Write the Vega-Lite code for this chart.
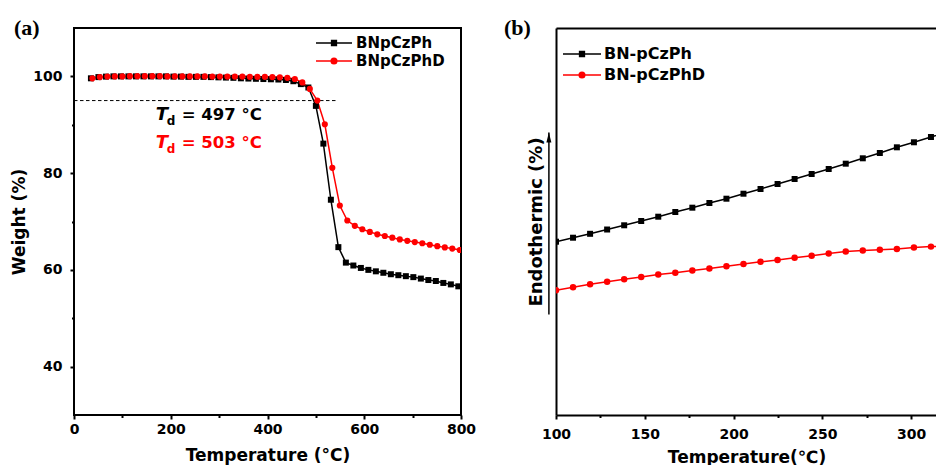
{
  "$schema": "https://vega.github.io/schema/vega-lite/v6.json",
  "background": "white",
  "padding": {"left": 9, "top": 16, "right": 0, "bottom": 0},
  "spacing": 27,
  "resolve": {"scale": {"color": "independent"}, "legend": {"color": "independent"}},
  "config": {
    "font": "DejaVu Sans",
    "view": {"stroke": null},
    "axis": {
      "grid": false, "labelFlush": false,
      "labelFont": "DejaVu Sans", "labelFontSize": 14, "labelFontWeight": "bold", "labelColor": "#000",
      "titleFont": "DejaVu Sans", "titleFontSize": 17, "titleFontWeight": "bold", "titleColor": "#000",
      "tickColor": "#000", "tickWidth": 2, "domainColor": "#000", "domainWidth": 2
    }
  },
  "datasets": {
    "tga": [
      {"series": "BNpCzPh", "t": 35, "w": 99.6}, {"series": "BNpCzPh", "t": 50.5, "w": 99.85},
      {"series": "BNpCzPh", "t": 66, "w": 99.95}, {"series": "BNpCzPh", "t": 81.5, "w": 100},
      {"series": "BNpCzPh", "t": 97, "w": 100}, {"series": "BNpCzPh", "t": 112.5, "w": 100},
      {"series": "BNpCzPh", "t": 128, "w": 100}, {"series": "BNpCzPh", "t": 143.5, "w": 100},
      {"series": "BNpCzPh", "t": 159, "w": 100}, {"series": "BNpCzPh", "t": 174.5, "w": 100},
      {"series": "BNpCzPh", "t": 190, "w": 100}, {"series": "BNpCzPh", "t": 205.5, "w": 99.95},
      {"series": "BNpCzPh", "t": 221, "w": 99.95}, {"series": "BNpCzPh", "t": 236.5, "w": 99.9},
      {"series": "BNpCzPh", "t": 252, "w": 99.9}, {"series": "BNpCzPh", "t": 267.5, "w": 99.9},
      {"series": "BNpCzPh", "t": 283, "w": 99.85}, {"series": "BNpCzPh", "t": 298.5, "w": 99.8},
      {"series": "BNpCzPh", "t": 314, "w": 99.75}, {"series": "BNpCzPh", "t": 329.5, "w": 99.7},
      {"series": "BNpCzPh", "t": 345, "w": 99.6}, {"series": "BNpCzPh", "t": 360.5, "w": 99.55},
      {"series": "BNpCzPh", "t": 376, "w": 99.5}, {"series": "BNpCzPh", "t": 391.5, "w": 99.45},
      {"series": "BNpCzPh", "t": 407, "w": 99.4}, {"series": "BNpCzPh", "t": 422.5, "w": 99.35},
      {"series": "BNpCzPh", "t": 438, "w": 99.25}, {"series": "BNpCzPh", "t": 453.5, "w": 99.0},
      {"series": "BNpCzPh", "t": 469, "w": 98.4}, {"series": "BNpCzPh", "t": 484.5, "w": 97.7},
      {"series": "BNpCzPh", "t": 500, "w": 93.9}, {"series": "BNpCzPh", "t": 515.5, "w": 86.1},
      {"series": "BNpCzPh", "t": 531, "w": 74.5}, {"series": "BNpCzPh", "t": 546.5, "w": 64.7},
      {"series": "BNpCzPh", "t": 562, "w": 61.5}, {"series": "BNpCzPh", "t": 577.5, "w": 60.9},
      {"series": "BNpCzPh", "t": 593, "w": 60.4}, {"series": "BNpCzPh", "t": 608.5, "w": 60.0},
      {"series": "BNpCzPh", "t": 624, "w": 59.7}, {"series": "BNpCzPh", "t": 639.5, "w": 59.4},
      {"series": "BNpCzPh", "t": 655, "w": 59.1}, {"series": "BNpCzPh", "t": 670.5, "w": 58.9},
      {"series": "BNpCzPh", "t": 686, "w": 58.7}, {"series": "BNpCzPh", "t": 701.5, "w": 58.5},
      {"series": "BNpCzPh", "t": 717, "w": 58.2}, {"series": "BNpCzPh", "t": 732.5, "w": 57.9},
      {"series": "BNpCzPh", "t": 748, "w": 57.7}, {"series": "BNpCzPh", "t": 763.5, "w": 57.3},
      {"series": "BNpCzPh", "t": 779, "w": 57.0}, {"series": "BNpCzPh", "t": 794.5, "w": 56.6},
      {"series": "BNpCzPhD", "t": 38, "w": 99.6}, {"series": "BNpCzPhD", "t": 53.5, "w": 99.85},
      {"series": "BNpCzPhD", "t": 69, "w": 99.95}, {"series": "BNpCzPhD", "t": 84.5, "w": 100},
      {"series": "BNpCzPhD", "t": 100, "w": 100}, {"series": "BNpCzPhD", "t": 115.5, "w": 100.05},
      {"series": "BNpCzPhD", "t": 131, "w": 100.05}, {"series": "BNpCzPhD", "t": 146.5, "w": 100.05},
      {"series": "BNpCzPhD", "t": 162, "w": 100.05}, {"series": "BNpCzPhD", "t": 177.5, "w": 100.05},
      {"series": "BNpCzPhD", "t": 193, "w": 100}, {"series": "BNpCzPhD", "t": 208.5, "w": 100},
      {"series": "BNpCzPhD", "t": 224, "w": 100}, {"series": "BNpCzPhD", "t": 239.5, "w": 100},
      {"series": "BNpCzPhD", "t": 255, "w": 100}, {"series": "BNpCzPhD", "t": 270.5, "w": 100},
      {"series": "BNpCzPhD", "t": 286, "w": 99.95}, {"series": "BNpCzPhD", "t": 301.5, "w": 99.95},
      {"series": "BNpCzPhD", "t": 317, "w": 99.95}, {"series": "BNpCzPhD", "t": 332.5, "w": 99.95},
      {"series": "BNpCzPhD", "t": 348, "w": 99.95}, {"series": "BNpCzPhD", "t": 363.5, "w": 99.9},
      {"series": "BNpCzPhD", "t": 379, "w": 99.9}, {"series": "BNpCzPhD", "t": 394.5, "w": 99.9},
      {"series": "BNpCzPhD", "t": 410, "w": 99.85}, {"series": "BNpCzPhD", "t": 425.5, "w": 99.8},
      {"series": "BNpCzPhD", "t": 441, "w": 99.7}, {"series": "BNpCzPhD", "t": 456.5, "w": 99.45},
      {"series": "BNpCzPhD", "t": 472, "w": 98.75}, {"series": "BNpCzPhD", "t": 487.5, "w": 97.4},
      {"series": "BNpCzPhD", "t": 503, "w": 95.0}, {"series": "BNpCzPhD", "t": 518.5, "w": 90.1},
      {"series": "BNpCzPhD", "t": 534, "w": 81.1}, {"series": "BNpCzPhD", "t": 549.5, "w": 73.3},
      {"series": "BNpCzPhD", "t": 565, "w": 70.2}, {"series": "BNpCzPhD", "t": 580.5, "w": 69.1},
      {"series": "BNpCzPhD", "t": 596, "w": 68.4}, {"series": "BNpCzPhD", "t": 611.5, "w": 67.85},
      {"series": "BNpCzPhD", "t": 627, "w": 67.35}, {"series": "BNpCzPhD", "t": 642.5, "w": 67.0},
      {"series": "BNpCzPhD", "t": 658, "w": 66.65}, {"series": "BNpCzPhD", "t": 673.5, "w": 66.3},
      {"series": "BNpCzPhD", "t": 689, "w": 66.0}, {"series": "BNpCzPhD", "t": 704.5, "w": 65.75},
      {"series": "BNpCzPhD", "t": 720, "w": 65.5}, {"series": "BNpCzPhD", "t": 735.5, "w": 65.2},
      {"series": "BNpCzPhD", "t": 751, "w": 64.9}, {"series": "BNpCzPhD", "t": 766.5, "w": 64.65},
      {"series": "BNpCzPhD", "t": 782, "w": 64.4}, {"series": "BNpCzPhD", "t": 797.5, "w": 64.1}
    ],
    "td95": [{"t0": 0, "t1": 541, "w": 95}],
    "tdnote": [
      {"series": "BNpCzPh", "label": "= 497 °C", "t": 169, "w": 90.9},
      {"series": "BNpCzPhD", "label": "= 503 °C", "t": 169, "w": 85.1}
    ],
    "dsc": [
      {"series": "BN-pCzPh", "t": 100, "v": 44.78}, {"series": "BN-pCzPh", "t": 109.6, "v": 45.81},
      {"series": "BN-pCzPh", "t": 119.2, "v": 46.82}, {"series": "BN-pCzPh", "t": 128.8, "v": 47.93},
      {"series": "BN-pCzPh", "t": 138.4, "v": 49.02}, {"series": "BN-pCzPh", "t": 148, "v": 50.13},
      {"series": "BN-pCzPh", "t": 157.6, "v": 51.24}, {"series": "BN-pCzPh", "t": 167.2, "v": 52.45},
      {"series": "BN-pCzPh", "t": 176.8, "v": 53.57}, {"series": "BN-pCzPh", "t": 186.4, "v": 54.78},
      {"series": "BN-pCzPh", "t": 196, "v": 55.89}, {"series": "BN-pCzPh", "t": 205.6, "v": 57.18},
      {"series": "BN-pCzPh", "t": 215.2, "v": 58.4}, {"series": "BN-pCzPh", "t": 224.8, "v": 59.69},
      {"series": "BN-pCzPh", "t": 234.4, "v": 60.98}, {"series": "BN-pCzPh", "t": 244, "v": 62.27},
      {"series": "BN-pCzPh", "t": 253.6, "v": 63.57}, {"series": "BN-pCzPh", "t": 263.2, "v": 64.94},
      {"series": "BN-pCzPh", "t": 272.8, "v": 66.33}, {"series": "BN-pCzPh", "t": 282.4, "v": 67.7},
      {"series": "BN-pCzPh", "t": 292, "v": 69.17}, {"series": "BN-pCzPh", "t": 301.6, "v": 70.47},
      {"series": "BN-pCzPh", "t": 311.2, "v": 71.83}, {"series": "BN-pCzPh", "t": 320.8, "v": 73.18},
      {"series": "BN-pCzPhD", "t": 100, "v": 32.22}, {"series": "BN-pCzPhD", "t": 109.6, "v": 33.0},
      {"series": "BN-pCzPhD", "t": 119.2, "v": 33.77}, {"series": "BN-pCzPhD", "t": 128.8, "v": 34.44},
      {"series": "BN-pCzPhD", "t": 138.4, "v": 35.06}, {"series": "BN-pCzPhD", "t": 148, "v": 35.66},
      {"series": "BN-pCzPhD", "t": 157.6, "v": 36.3}, {"series": "BN-pCzPhD", "t": 167.2, "v": 36.77},
      {"series": "BN-pCzPhD", "t": 176.8, "v": 37.34}, {"series": "BN-pCzPhD", "t": 186.4, "v": 37.86},
      {"series": "BN-pCzPhD", "t": 196, "v": 38.45}, {"series": "BN-pCzPhD", "t": 205.6, "v": 39.02},
      {"series": "BN-pCzPhD", "t": 215.2, "v": 39.59}, {"series": "BN-pCzPhD", "t": 224.8, "v": 40.05},
      {"series": "BN-pCzPhD", "t": 234.4, "v": 40.62}, {"series": "BN-pCzPhD", "t": 244, "v": 41.16},
      {"series": "BN-pCzPhD", "t": 253.6, "v": 41.73}, {"series": "BN-pCzPhD", "t": 263.2, "v": 42.22},
      {"series": "BN-pCzPhD", "t": 272.8, "v": 42.51}, {"series": "BN-pCzPhD", "t": 282.4, "v": 42.69},
      {"series": "BN-pCzPhD", "t": 292, "v": 42.89}, {"series": "BN-pCzPhD", "t": 301.6, "v": 43.28},
      {"series": "BN-pCzPhD", "t": 311.2, "v": 43.51}, {"series": "BN-pCzPhD", "t": 320.8, "v": 43.67}
    ],
    "arrow": [{"t": 96, "lo": 26, "hi": 73}]
  },
  "hconcat": [
    {
      "width": 387,
      "height": 387,
      "view": {"stroke": "#000", "strokeWidth": 2},
      "title": {"text": "(a)", "anchor": "start", "frame": "group", "dx": -60, "dy": 22, "offset": -7, "baseline": "alphabetic", "font": "Liberation Serif", "fontSize": 22, "fontWeight": "bold", "color": "#000"},
      "layer": [
        {
          "data": {"name": "td95"},
          "mark": {"type": "rule", "strokeDash": [3.5, 2.5], "strokeWidth": 1, "color": "#000"},
          "encoding": {
            "x": {"field": "t0", "type": "quantitative", "scale": {"domain": [0, 800], "nice": false, "zero": false}, "axis": null},
            "x2": {"field": "t1"},
            "y": {"field": "w", "type": "quantitative", "scale": {"domain": [30, 110], "nice": false, "zero": false}, "axis": null}
          }
        },
        {
          "data": {"name": "tga"},
          "mark": {"type": "line", "strokeWidth": 1.5, "clip": true},
          "encoding": {
            "x": {"field": "t", "type": "quantitative", "scale": {"domain": [0, 800], "nice": false, "zero": false},
              "axis": {"orient": "bottom", "values": [0, 200, 400, 600, 800], "tickSize": 4, "labelPadding": 3, "domain": false, "title": "Temperature (°C)", "titlePadding": 11}},
            "y": {"field": "w", "type": "quantitative", "scale": {"domain": [30, 110], "nice": false, "zero": false},
              "axis": {"orient": "left", "values": [40, 60, 80, 100], "tickSize": 4, "labelPadding": 8, "domain": false, "title": "Weight (%)", "titlePadding": 4}},
            "color": {"field": "series", "type": "nominal",
              "scale": {"domain": ["BNpCzPh", "BNpCzPhD"], "range": ["#000000", "#ff0000"]},
              "legend": {
                "orient": "none", "legendX": 251, "legendY": 6, "title": null, "padding": 0,
                "symbolSize": 256, "symbolStrokeWidth": 1.5, "labelOffset": 13, "rowPadding": 1,
                "labelFont": "DejaVu Sans", "labelFontSize": 15, "labelFontWeight": "bold", "labelColor": "#000",
                "encode": {"symbols": {"update": {
                  "shape": {"signal": "datum.value === 'BNpCzPh' ? 'M-2.25,0H2.25M-0.3,-0.3H0.3V0.3H-0.3Z' : 'M-2.25,0H2.25M0.35,0A0.35,0.35,0,1,1,-0.35,0A0.35,0.35,0,1,1,0.35,0Z'"},
                  "fill": {"signal": "datum.value === 'BNpCzPh' ? '#000000' : '#ff0000'"},
                  "stroke": {"signal": "datum.value === 'BNpCzPh' ? '#000000' : '#ff0000'"}
                }}}
              }
            }
          }
        },
        {
          "data": {"name": "tga"},
          "transform": [{"filter": {"field": "series", "equal": "BNpCzPh"}}],
          "mark": {"type": "point", "shape": "square", "filled": true, "opacity": 1, "size": 36, "color": "#000000", "clip": true},
          "encoding": {
            "x": {"field": "t", "type": "quantitative", "scale": {"domain": [0, 800], "nice": false, "zero": false},
              "axis": {"orient": "bottom", "values": [100, 300, 500, 700], "tickSize": 2.5, "labels": false, "domain": false, "title": null}},
            "y": {"field": "w", "type": "quantitative", "scale": {"domain": [30, 110], "nice": false, "zero": false},
              "axis": {"orient": "left", "values": [50, 70, 90], "tickSize": 2.5, "labels": false, "domain": false, "title": null}}
          }
        },
        {
          "data": {"name": "tga"},
          "transform": [{"filter": {"field": "series", "equal": "BNpCzPhD"}}],
          "mark": {"type": "point", "shape": "circle", "filled": true, "opacity": 1, "size": 38, "color": "#ff0000", "clip": true},
          "encoding": {
            "x": {"field": "t", "type": "quantitative", "scale": {"domain": [0, 800], "nice": false, "zero": false}, "axis": null},
            "y": {"field": "w", "type": "quantitative", "scale": {"domain": [30, 110], "nice": false, "zero": false}, "axis": null}
          }
        },
        {
          "data": {"name": "tdnote"},
          "mark": {"type": "text", "text": "T", "align": "left", "baseline": "alphabetic", "font": "DejaVu Sans", "fontSize": 18, "fontStyle": "italic", "fontWeight": "bold"},
          "encoding": {
            "x": {"field": "t", "type": "quantitative", "scale": {"domain": [0, 800], "nice": false, "zero": false}, "axis": null},
            "y": {"field": "w", "type": "quantitative", "scale": {"domain": [30, 110], "nice": false, "zero": false}, "axis": null},
            "color": {"field": "series", "type": "nominal", "legend": null}
          }
        },
        {
          "data": {"name": "tdnote"},
          "mark": {"type": "text", "text": "d", "align": "left", "baseline": "alphabetic", "dx": 11, "dy": 5, "font": "DejaVu Sans", "fontSize": 12, "fontWeight": "bold"},
          "encoding": {
            "x": {"field": "t", "type": "quantitative", "scale": {"domain": [0, 800], "nice": false, "zero": false}, "axis": null},
            "y": {"field": "w", "type": "quantitative", "scale": {"domain": [30, 110], "nice": false, "zero": false}, "axis": null},
            "color": {"field": "series", "type": "nominal", "legend": null}
          }
        },
        {
          "data": {"name": "tdnote"},
          "mark": {"type": "text", "align": "left", "baseline": "alphabetic", "dx": 26, "font": "DejaVu Sans", "fontSize": 16.5, "fontWeight": "bold"},
          "encoding": {
            "x": {"field": "t", "type": "quantitative", "scale": {"domain": [0, 800], "nice": false, "zero": false}, "axis": null},
            "y": {"field": "w", "type": "quantitative", "scale": {"domain": [30, 110], "nice": false, "zero": false}, "axis": null},
            "text": {"field": "label"},
            "color": {"field": "series", "type": "nominal", "legend": null}
          }
        }
      ],
      "resolve": {"axis": {"x": "independent", "y": "independent"}}
    },
    {
      "width": 381,
      "height": 387,
      "title": {"text": "(b)", "anchor": "start", "frame": "group", "dx": -52, "dy": 22, "offset": -7, "baseline": "alphabetic", "font": "Liberation Serif", "fontSize": 22, "fontWeight": "bold", "color": "#000"},
      "layer": [
        {
          "data": {"name": "dsc"},
          "mark": {"type": "line", "strokeWidth": 1.5, "clip": true},
          "encoding": {
            "x": {"field": "t", "type": "quantitative", "scale": {"domain": [100, 314.6], "nice": false, "zero": false},
              "axis": {"orient": "bottom", "values": [100, 150, 200, 250, 300], "tickSize": 4, "labelPadding": 8, "title": "Temperature(℃)", "titlePadding": 8}},
            "y": {"field": "v", "type": "quantitative", "scale": {"domain": [0, 100], "nice": false, "zero": false},
              "axis": {"orient": "left", "ticks": false, "labels": false, "title": "Endothermic (%)", "titleFontSize": 18, "titlePadding": 11}},
            "color": {"field": "series", "type": "nominal",
              "scale": {"domain": ["BN-pCzPh", "BN-pCzPhD"], "range": ["#000000", "#ff0000"]},
              "legend": {
                "orient": "none", "legendX": 15, "legendY": 15, "title": null, "padding": 0,
                "symbolSize": 400, "symbolStrokeWidth": 1.5, "labelOffset": 11, "rowPadding": 2,
                "labelFont": "DejaVu Sans", "labelFontSize": 16, "labelFontWeight": "bold", "labelColor": "#000",
                "encode": {"symbols": {"update": {
                  "shape": {"signal": "datum.value === 'BN-pCzPh' ? 'M-1.9,0H1.9M-0.24,-0.24H0.24V0.24H-0.24Z' : 'M-1.9,0H1.9M0.28,0A0.28,0.28,0,1,1,-0.28,0A0.28,0.28,0,1,1,0.28,0Z'"},
                  "fill": {"signal": "datum.value === 'BN-pCzPh' ? '#000000' : '#ff0000'"},
                  "stroke": {"signal": "datum.value === 'BN-pCzPh' ? '#000000' : '#ff0000'"}
                }}}
              }
            }
          }
        },
        {
          "data": {"name": "dsc"},
          "transform": [{"filter": {"field": "series", "equal": "BN-pCzPh"}}],
          "mark": {"type": "point", "shape": "square", "filled": true, "opacity": 1, "size": 36, "color": "#000000", "clip": true},
          "encoding": {
            "x": {"field": "t", "type": "quantitative", "scale": {"domain": [100, 314.6], "nice": false, "zero": false},
              "axis": {"orient": "bottom", "values": [125, 175, 225, 275], "tickSize": 2.5, "labels": false, "domain": false, "title": null}},
            "y": {"field": "v", "type": "quantitative", "scale": {"domain": [0, 100], "nice": false, "zero": false}, "axis": null}
          }
        },
        {
          "data": {"name": "dsc"},
          "transform": [{"filter": {"field": "series", "equal": "BN-pCzPhD"}}],
          "mark": {"type": "point", "shape": "circle", "filled": true, "opacity": 1, "size": 42, "color": "#ff0000", "clip": true},
          "encoding": {
            "x": {"field": "t", "type": "quantitative", "scale": {"domain": [100, 314.6], "nice": false, "zero": false}, "axis": null},
            "y": {"field": "v", "type": "quantitative", "scale": {"domain": [0, 100], "nice": false, "zero": false}, "axis": null}
          }
        },
        {
          "data": {"name": "arrow"},
          "mark": {"type": "rule", "strokeWidth": 1.5, "color": "#000"},
          "encoding": {
            "x": {"field": "t", "type": "quantitative", "scale": {"domain": [100, 314.6], "nice": false, "zero": false},
              "axis": {"orient": "top", "ticks": false, "labels": false, "domain": true, "title": null}},
            "y": {"field": "lo", "type": "quantitative", "scale": {"domain": [0, 100], "nice": false, "zero": false}, "axis": null},
            "y2": {"field": "hi"}
          }
        },
        {
          "data": {"name": "arrow"},
          "mark": {"type": "point", "shape": "M0,-1L0.5,1L-0.5,1Z", "filled": true, "color": "#000", "opacity": 1, "size": 100, "yOffset": 5},
          "encoding": {
            "x": {"field": "t", "type": "quantitative", "scale": {"domain": [100, 314.6], "nice": false, "zero": false}, "axis": null},
            "y": {"field": "hi", "type": "quantitative", "scale": {"domain": [0, 100], "nice": false, "zero": false}, "axis": null}
          }
        }
      ],
      "resolve": {"axis": {"x": "independent", "y": "independent"}}
    }
  ]
}
